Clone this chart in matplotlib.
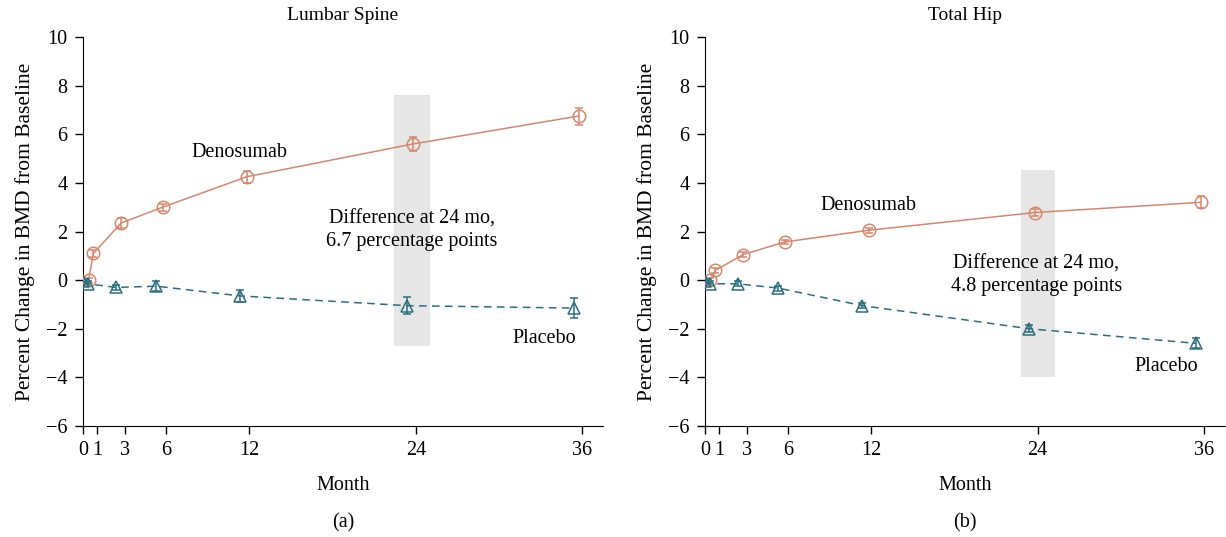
import matplotlib
matplotlib.use("Agg")
import matplotlib.pyplot as plt

plt.rcParams['font.family'] = ['Liberation Serif', 'DejaVu Serif']
plt.rcParams['font.size'] = 14.5

# months at which each group was measured (slightly staggered in the original)
months_deno = [0.4, 0.75, 2.75, 5.75, 11.8, 23.8, 35.75]
months_plac = [0.0, 0.35, 2.35, 5.3, 11.35, 23.4, 35.4]

# lumbar spine
spine_deno = [0.0, 1.1, 2.35, 3.0, 4.25, 5.6, 6.75]
spine_deno_err = [0.1, 0.15, 0.2, 0.15, 0.25, 0.3, 0.35]
spine_plac = [-0.05, -0.15, -0.3, -0.25, -0.65, -1.05, -1.15]
spine_plac_err = [0.1, 0.1, 0.1, 0.2, 0.25, 0.35, 0.4]

# total hip
hip_deno = [0.0, 0.4, 1.05, 1.57, 2.05, 2.78, 3.2]
hip_deno_err = [0.1, 0.1, 0.1, 0.1, 0.1, 0.15, 0.25]
hip_plac = [-0.05, -0.15, -0.15, -0.33, -1.05, -2.0, -2.6]
hip_plac_err = [0.1, 0.1, 0.1, 0.1, 0.1, 0.15, 0.2]

xticks = [0, 1, 3, 6, 12, 24, 36]
yticks = [-6, -4, -2, 0, 2, 4, 6, 8, 10]

c_deno = '#D4876C'
c_plac = '#2A6E80'

fig = plt.figure(figsize=(12.26, 5.37), dpi=100)
ax1 = fig.add_axes([0.0677, 0.2067, 0.4241, 0.7244])
ax2 = fig.add_axes([0.5750, 0.2067, 0.4241, 0.7244])

panels = [
    (ax1, 'Lumbar Spine', '(a)', spine_deno, spine_deno_err, spine_plac, spine_plac_err,
     (22.4, 25.0, -2.7, 7.6), (11.25, 5.25), (23.7, 2.05), '6.7', (33.3, -2.4)),
    (ax2, 'Total Hip', '(b)', hip_deno, hip_deno_err, hip_plac, hip_plac_err,
     (22.8, 25.25, -4.0, 4.55), (11.8, 3.05), (23.9, 0.2), '4.8', (33.3, -3.55)),
]

for ax, title, sub, d, de, p, pe, band, dpos, diffpos, diff, ppos in panels:
    ax.fill_between([band[0], band[1]], band[2], band[3], color='#E6E6E6', lw=0, zorder=0)
    ax.errorbar(months_deno, d, yerr=de, color=c_deno, lw=1.1, marker='o', ms=9,
                mfc='none', mec=c_deno, mew=1.1, capsize=3, elinewidth=1.1, zorder=3)
    ax.errorbar(months_plac, p, yerr=pe, color=c_plac, lw=1.1, ls='--', dashes=(5, 3.5),
                marker='^', ms=9, mfc='none', mec=c_plac, mew=1.1, capsize=3,
                elinewidth=1.1, zorder=3)
    ax.text(dpos[0], dpos[1], 'Denosumab', ha='center', va='center')
    ax.text(diffpos[0], diffpos[1],
            'Difference at 24 mo,\n' + diff + ' percentage points',
            ha='center', va='center', linespacing=1.3)
    ax.text(ppos[0], ppos[1], 'Placebo', ha='center', va='center')

    ax.set_xlim(0, 37.5)
    ax.set_ylim(-6, 10)
    ax.set_xticks(xticks)
    ax.set_yticks(yticks)
    ax.set_yticklabels([str(t).replace('-', '\u2212') for t in yticks])
    ax.spines['top'].set_visible(False)
    ax.spines['right'].set_visible(False)
    ax.tick_params(direction='out', length=6, width=1, pad=5)
    ax.set_title(title, fontsize=14, pad=12)
    ax.set_xlabel('Month', labelpad=11)
    ax.set_ylabel('Percent Change in BMD from Baseline', fontsize=15.5, labelpad=8)
    ax.text(0.5, -0.25, sub, transform=ax.transAxes, ha='center', va='center')

fig.savefig('out.png', dpi=100)
